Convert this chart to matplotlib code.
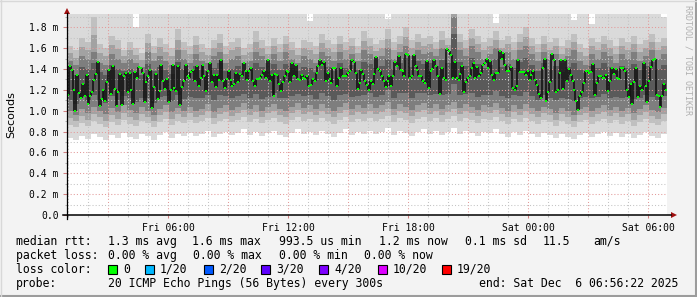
import numpy as np
import matplotlib
matplotlib.use("Agg")
import matplotlib.pyplot as plt
from matplotlib.patches import Polygon, Rectangle
from matplotlib.lines import Line2D

# ---------------- data (ms) ----------------
# median rtt per 5-min step
median_rtt = [
    1.154, 1.433, 1.394, 1.202, 0.993, 1.346, 1.170, 1.122, 1.260, 1.144, 1.346, 1.064, 1.144,
    1.180, 1.298, 1.352, 1.465, 1.048, 1.112, 1.202, 1.090, 1.276, 1.394, 1.160, 1.426, 1.208,
    1.041, 1.180, 1.356, 1.055, 1.330, 1.362, 1.180, 1.362, 1.202, 1.064, 1.369, 1.314, 1.417,
    1.410, 1.362, 1.080, 1.279, 1.330, 1.394, 1.022, 1.228, 1.356, 1.112, 1.186, 1.442, 1.282,
    1.208, 1.304, 1.083, 1.202, 1.442, 1.218, 1.186, 1.426, 1.058, 1.224, 1.282, 1.442, 1.330,
    1.314, 1.369, 1.388, 1.288, 1.433, 1.240, 1.314, 1.442, 1.337, 1.192, 1.378, 1.458, 1.272,
    1.340, 1.224, 1.340, 1.295, 1.484, 1.288, 1.218, 1.304, 1.378, 1.298, 1.234, 1.260, 1.362,
    1.272, 1.356, 1.330, 1.458, 1.378, 1.298, 1.378, 1.410, 1.288, 1.240, 1.304, 1.304, 1.314,
    1.346,
    1.378, 1.314, 1.484, 1.282, 1.346, 1.138, 1.352, 1.346, 1.260, 1.192, 1.272, 1.330, 1.385,
    1.369, 1.272, 1.458, 1.337, 1.442, 1.304, 1.298, 1.346, 1.314, 1.304, 1.330, 1.240, 1.250,
    1.304, 1.282, 1.362, 1.426, 1.484, 1.442, 1.465, 1.288, 1.362, 1.304, 1.266, 1.410, 1.410,
    1.240, 1.314, 1.410, 1.330, 1.330, 1.330, 1.362, 1.378, 1.484, 1.465, 1.362, 1.208, 1.266,
    1.394, 1.356, 1.288, 1.250, 1.202, 1.288,
    1.260, 1.352, 1.513, 1.401, 1.378, 1.330, 1.288, 1.228, 1.288, 1.330, 1.234, 1.330, 1.465,
    1.426, 1.529, 1.388, 1.378, 1.330, 1.545, 1.538, 1.314, 1.330, 1.538, 1.426, 1.394, 1.330,
    1.337, 1.282, 1.266, 1.481, 1.218, 1.378, 1.401, 1.484, 1.433, 1.330, 1.163, 1.410, 1.314,
    1.298, 1.596, 1.571, 1.538, 1.314, 1.465, 1.314, 1.298, 1.356, 1.426, 1.176, 1.272, 1.314,
    1.330, 1.410, 1.458, 1.314, 1.420, 1.337, 1.362, 1.442, 1.458,
    1.497, 1.410, 1.481, 1.346, 1.298, 1.362, 1.362, 1.577, 1.500, 1.554, 1.442, 1.378, 1.385,
    1.420, 1.218, 1.196, 1.240, 1.484, 1.369, 1.369, 1.369, 1.346, 1.378, 1.298, 1.340, 1.378,
    1.292, 1.250, 1.163, 1.122, 1.410, 1.497, 1.090, 1.176, 1.272, 1.545, 1.490, 1.176, 1.202,
    1.362, 1.490, 1.212, 1.484, 1.282, 1.401, 1.346, 1.288, 1.202, 1.090, 1.003, 1.144, 1.176,
    1.266, 1.378, 1.378, 1.362, 1.369,
    1.452, 1.154, 1.266, 1.337, 1.330, 1.314, 1.314, 1.346, 1.186, 1.282, 1.410, 1.356, 1.401,
    1.314, 1.304, 1.410, 1.410, 1.378, 1.202, 1.131, 1.260, 1.067, 1.272, 1.410, 1.131, 1.240,
    1.196, 1.458, 1.234, 1.080, 1.282, 1.420, 1.484, 1.497, 1.154, 1.138, 1.032, 1.144, 1.260,
    1.202,
]

# smoke envelopes (100 time columns)
smoke_max = [
    2.10, 2.10, 2.10, 2.10, 2.10, 2.10, 2.10, 2.10, 2.10, 2.10,
    2.10, 1.80, 2.10, 2.10, 2.10, 2.10, 2.10, 2.10, 2.10, 2.10,
    2.10, 2.10, 2.10, 2.10, 2.10, 2.10, 2.10, 2.10, 2.10, 2.10,
    2.10, 2.10, 2.10, 2.10, 2.10, 2.10, 2.10, 2.10, 2.10, 2.10,
    1.86, 2.10, 2.10, 2.10, 2.10, 2.10, 2.10, 2.10, 2.10, 2.10,
    2.10, 2.10, 2.10, 1.88, 2.10, 2.10, 2.10, 2.10, 2.10, 2.10,
    2.10, 2.10, 2.10, 2.10, 2.10, 2.10, 2.10, 2.10, 2.10, 2.10,
    2.10, 1.84, 2.10, 2.10, 2.10, 2.10, 2.10, 2.10, 2.10, 2.10,
    2.10, 2.10, 2.10, 2.10, 1.87, 2.10, 2.10, 1.83, 2.10, 2.10,
    2.10, 2.10, 2.10, 2.10, 2.10, 2.10, 2.10, 2.10, 2.10, 1.90,
]
smoke_upper = [
    1.62, 1.58, 1.70, 1.66, 1.90, 1.64, 1.60, 1.72, 1.68, 1.58,
    1.66, 1.60, 1.55, 1.74, 1.62, 1.70, 1.64, 1.60, 1.78, 1.66,
    1.62, 1.72, 1.64, 1.60, 1.68, 1.74, 1.62, 1.66, 1.70, 1.60,
    1.64, 1.76, 1.68, 1.62, 1.70, 1.64, 1.72, 1.66, 1.60, 1.68,
    1.66, 1.62, 1.74, 1.68, 1.64, 1.72, 1.66, 1.70, 1.62, 1.76,
    1.70, 1.64, 1.68, 1.78, 1.66, 1.72, 1.80, 1.68, 1.74, 1.70,
    1.72, 1.66, 1.76, 1.70, 1.95, 1.74, 1.68, 1.78, 1.72, 1.66,
    1.70, 1.76, 1.68, 1.72, 1.66, 1.74, 1.80, 1.70, 1.64, 1.72,
    1.66, 1.70, 1.62, 1.68, 1.74, 1.64, 1.60, 1.70, 1.66, 1.72,
    1.68, 1.62, 1.70, 1.66, 1.72, 1.64, 1.68, 1.74, 1.66, 1.70,
]
smoke_core_hi = [
    1.48, 1.44, 1.52, 1.50, 1.56, 1.46, 1.44, 1.54, 1.50, 1.46,
    1.50, 1.46, 1.42, 1.56, 1.48, 1.52, 1.48, 1.44, 1.58, 1.50,
    1.46, 1.54, 1.48, 1.46, 1.52, 1.56, 1.46, 1.50, 1.52, 1.46,
    1.48, 1.56, 1.52, 1.46, 1.54, 1.48, 1.56, 1.50, 1.46, 1.52,
    1.50, 1.46, 1.56, 1.52, 1.48, 1.56, 1.50, 1.54, 1.48, 1.58,
    1.54, 1.50, 1.52, 1.60, 1.50, 1.56, 1.62, 1.52, 1.58, 1.54,
    1.56, 1.52, 1.60, 1.56, 1.90, 1.58, 1.52, 1.62, 1.56, 1.50,
    1.54, 1.60, 1.52, 1.56, 1.50, 1.58, 1.62, 1.54, 1.48, 1.56,
    1.50, 1.54, 1.46, 1.52, 1.58, 1.48, 1.44, 1.54, 1.50, 1.56,
    1.52, 1.46, 1.54, 1.50, 1.56, 1.48, 1.52, 1.58, 1.50, 1.54,
]
smoke_core_lo = [
    1.00, 0.96, 1.02, 0.98, 1.04, 1.00, 0.97, 1.03, 0.99, 1.05,
    1.01, 0.98, 1.04, 1.00, 0.96, 1.02, 1.05, 0.99, 1.03, 1.00,
    1.04, 1.00, 1.02, 1.06, 0.99, 1.03, 1.05, 1.01, 1.04, 1.07,
    1.02, 1.05, 1.00, 1.04, 1.06, 1.02, 1.00, 1.04, 1.07, 1.03,
    1.05, 1.02, 1.06, 1.03, 1.00, 1.04, 1.07, 1.02, 1.05, 1.03,
    1.06, 1.03, 1.05, 1.08, 1.02, 1.06, 1.04, 1.01, 1.05, 1.07,
    1.03, 1.06, 1.02, 1.05, 1.08, 1.03, 1.06, 1.04, 1.01, 1.05,
    1.04, 1.07, 1.03, 1.00, 1.05, 1.02, 1.06, 1.03, 1.00, 1.04,
    1.02, 0.98, 1.03, 1.00, 0.96, 1.02, 1.04, 1.00, 1.03, 1.05,
    1.01, 1.04, 1.00, 1.03, 0.98, 1.02, 1.05, 1.01, 0.99, 1.03,
]
smoke_lower = [
    0.86, 0.84, 0.88, 0.85, 0.90, 0.87, 0.84, 0.89, 0.86, 0.91,
    0.87, 0.85, 0.90, 0.88, 0.84, 0.89, 0.92, 0.86, 0.90, 0.88,
    0.91, 0.88, 0.90, 0.93, 0.87, 0.90, 0.92, 0.89, 0.91, 0.94,
    0.89, 0.92, 0.88, 0.91, 0.93, 0.89, 0.87, 0.91, 0.94, 0.90,
    0.92, 0.89, 0.93, 0.90, 0.87, 0.91, 0.94, 0.89, 0.92, 0.90,
    0.93, 0.90, 0.92, 0.95, 0.89, 0.93, 0.91, 0.88, 0.92, 0.94,
    0.90, 0.93, 0.89, 0.92, 0.95, 0.90, 0.93, 0.91, 0.88, 0.92,
    0.91, 0.94, 0.90, 0.87, 0.92, 0.89, 0.93, 0.90, 0.87, 0.91,
    0.89, 0.85, 0.90, 0.87, 0.84, 0.89, 0.91, 0.87, 0.90, 0.92,
    0.88, 0.91, 0.87, 0.90, 0.85, 0.89, 0.92, 0.88, 0.86, 0.90,
]
smoke_min = [
    0.74, 0.72, 0.76, 0.73, 0.78, 0.75, 0.72, 0.77, 0.74, 0.79,
    0.75, 0.73, 0.78, 0.76, 0.72, 0.77, 0.80, 0.74, 0.78, 0.76,
    0.79, 0.76, 0.78, 0.81, 0.75, 0.78, 0.80, 0.77, 0.79, 0.82,
    0.77, 0.80, 0.76, 0.79, 0.81, 0.77, 0.75, 0.79, 0.82, 0.78,
    0.80, 0.77, 0.81, 0.78, 0.75, 0.79, 0.82, 0.77, 0.80, 0.78,
    0.81, 0.78, 0.80, 0.83, 0.77, 0.81, 0.79, 0.76, 0.80, 0.82,
    0.78, 0.81, 0.77, 0.80, 0.83, 0.78, 0.81, 0.79, 0.76, 0.80,
    0.79, 0.82, 0.78, 0.75, 0.80, 0.77, 0.81, 0.78, 0.75, 0.79,
    0.77, 0.74, 0.78, 0.75, 0.73, 0.77, 0.79, 0.75, 0.78, 0.80,
    0.76, 0.79, 0.75, 0.78, 0.74, 0.77, 0.80, 0.76, 0.74, 0.78,
]

hours_span = 30.0
start_offset_h = 56 / 60 + 22 / 3600  # window starts Fri 00:56:22
x_tick_labels = ["Fri 06:00", "Fri 12:00", "Fri 18:00", "Sat 00:00", "Sat 06:00"]
y_major = [0.0, 0.2, 0.4, 0.6, 0.8, 1.0, 1.2, 1.4, 1.6, 1.8]
y_tick_labels = ["0.0", "0.2 m", "0.4 m", "0.6 m", "0.8 m", "1.0 m", "1.2 m", "1.4 m", "1.6 m", "1.8 m"]

loss_labels = ["0", "1/20", "2/20", "3/20", "4/20", "10/20", "19/20"]
loss_colors = ["#00ff00", "#00b8ff", "#0059ff", "#5e00ff", "#7e00ff", "#dd00ff", "#ff0000"]

# ---------------- figure ----------------
W, H = 697, 297
fig = plt.figure(figsize=(W / 100, H / 100), dpi=100, facecolor="#f3f3f3")


def fx(x):
    return x / W


def fy(y):
    return 1 - y / H


ax = fig.add_axes([fx(67), fy(215), 600 / W, 201 / H])
ax.set_facecolor("white")
ax.set_xlim(0, hours_span)
ax.set_ylim(0, 201 / 104.3)
for s in ax.spines.values():
    s.set_visible(False)

# smoke
ncol = len(smoke_min)
edges = np.linspace(0, hours_span, ncol + 1)


def ext(a):
    a = np.asarray(a, float)
    return np.append(a, a[-1])


smin, slow, sclo, schi, sup, smax = map(ext, [smoke_min, smoke_lower, smoke_core_lo,
                                               smoke_core_hi, smoke_upper, smoke_max])
layers = [
    (smin, smax, "#dadada"),
    (slow, sup, "#c0c0c0"),
    ((slow + sclo) / 2, (sup + schi) / 2, "#a2a2a2"),
    (sclo, schi, "#7e7e7e"),
    (sclo + (schi - sclo) * 0.22, schi - (schi - sclo) * 0.2, "#5a5a5a"),
]
for lo, hi, c in layers:
    ax.fill_between(edges, lo, hi, step="post", color=c, lw=0, zorder=1)

# median
med = np.asarray(median_rtt)
n = len(med)
t = (np.arange(n) + 0.5) * hours_span / n
xm = (t[:-1] + t[1:]) / 2
ax.vlines(xm, np.minimum(med[:-1], med[1:]), np.maximum(med[:-1], med[1:]),
          colors="#141414", lw=1.2, zorder=4)

# grid
hour0 = 1 - start_offset_h  # first full hour (Fri 01:00)
hours = np.arange(hour0, hours_span, 1.0)
for h in hours:
    clock = (h + start_offset_h) % 24
    if abs(clock % 3) < 1e-6 or abs(clock % 3 - 3) < 1e-6:
        ax.axvline(h, color="#e39a9a", lw=0.75, ls=(0, (1, 2)), zorder=3)
    else:
        ax.axvline(h, color="#c4c4c4", lw=0.75, ls=(0, (1, 2)), zorder=3)
for v in np.arange(0.1, 1.95, 0.1):
    if abs((v / 0.2) - round(v / 0.2)) < 1e-6:
        ax.axhline(v, color="#e39a9a", lw=0.75, ls=(0, (1, 2)), zorder=3)
    else:
        ax.axhline(v, color="#c4c4c4", lw=0.75, ls=(0, (1, 2)), zorder=3)

ax.plot(t, med, "s", ms=2.1, mfc="#00ff00", mec="#00ff00", mew=0, zorder=6)

# ticks
mono = "DejaVu Sans Mono"
xt = [h for h in hours if abs(((h + start_offset_h) % 24) % 6) < 1e-6]
ax.set_xticks(xt)
ax.set_xticklabels(x_tick_labels, fontfamily=mono, fontsize=7)
ax.set_xticks([h for h in hours if h not in xt], minor=True)
ax.set_yticks(y_major)
ax.set_yticklabels(y_tick_labels, fontfamily=mono, fontsize=7)
ax.set_yticks(np.arange(0.1, 1.95, 0.2), minor=True)
ax.tick_params(axis="y", which="major", length=3.2, width=0.75, color="#d08080", pad=2.8)
ax.tick_params(axis="y", which="minor", length=1.5, width=0.75, color="#b0b0b0")
ax.tick_params(axis="x", which="major", length=2.5, width=0.75, color="#d08080", pad=3.5)
ax.tick_params(axis="x", which="minor", length=1.5, width=0.75, color="#b0b0b0")

# axis lines and arrows (figure pixel coords)
fig.add_artist(Line2D([fx(63), fx(671)], [fy(215), fy(215)], color="black", lw=1.1))
fig.add_artist(Line2D([fx(67), fx(67)], [fy(219), fy(13)], color="black", lw=0.9))
fig.add_artist(Polygon([(fx(64), fy(14)), (fx(70), fy(14)), (fx(67), fy(8))],
                       closed=True, color="#a01010", lw=0))
fig.add_artist(Polygon([(fx(671), fy(212)), (fx(671), fy(218)), (fx(677), fy(215))],
                       closed=True, color="#a01010", lw=0))

# labels
fig.text(fx(11), fy(115), "Seconds", rotation=90, ha="center", va="center",
         fontsize=8, fontfamily="DejaVu Sans")
fig.text(fx(688), fy(60), "RRDTOOL / TOBI OETIKER", rotation=270, ha="center", va="center",
         fontsize=6, fontfamily=mono, color="#b0b0b0")

lfs = 8.3


def lt(x, y, s):
    fig.text(fx(x), fy(y), s, ha="left", va="center", fontsize=lfs, fontfamily=mono, color="black")


lt(16, 241.5, "median rtt:")
lt(107.5, 241.5, "1.3 ms avg")
lt(192, 241.5, "1.6 ms max")
lt(279, 241.5, "993.5 us min")
lt(379, 241.5, "1.2 ms now")
lt(465, 241.5, "0.1 ms sd")
lt(543, 241.5, "11.5")
lt(593, 241.5, "am/s")

lt(16, 255.5, "packet loss:")
lt(107.5, 255.5, "0.00 % avg")
lt(193, 255.5, "0.00 % max")
lt(279, 255.5, "0.00 % min")
lt(364, 255.5, "0.00 % now")

lt(16, 269.5, "loss color:")
box_x = [108, 145, 204, 261, 319, 378, 442]
for bx, lab, col in zip(box_x, loss_labels, loss_colors):
    fig.add_artist(Rectangle((fx(bx), fy(273.5)), 8.5 / W, 8.5 / H, facecolor=col,
                             edgecolor="black", lw=0.8))
    lt(bx + 15, 269.5, lab)

lt(16, 283.5, "probe:")
lt(107.5, 283.5, "20 ICMP Echo Pings (56 Bytes) every 300s")
lt(479, 283.5, "end: Sat Dec  6 06:56:22 2025")

# frame shading
fig.add_artist(Line2D([0, 1], [fy(296), fy(296)], color="#9c9c9c", lw=1.5))
fig.add_artist(Line2D([fx(696), fx(696)], [0, 1], color="#9c9c9c", lw=1.5))
fig.add_artist(Line2D([0, 1], [fy(0.5), fy(0.5)], color="#d8d8d8", lw=1.0))
fig.add_artist(Line2D([fx(0.5), fx(0.5)], [0, 1], color="#d8d8d8", lw=1.0))

fig.savefig("out.png", dpi=100, facecolor=fig.get_facecolor())
